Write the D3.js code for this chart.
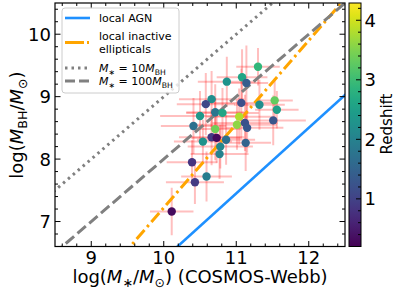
<!DOCTYPE html>
<meta charset="utf-8">
<script src="https://cdn.jsdelivr.net/npm/d3@7"></script>
<style>
body { margin: 0; background: #fff; }
text { font-family: "DejaVu Sans", sans-serif; fill: #000; }
.tick-lab { font-size: 18px; }
.leg { font-size: 11px; }
</style>
<body>
<script>
// values
var logMstar = [11.30, 11.08, 10.87, 11.14, 11.53, 11.56, 11.51, 11.32, 11.07, 10.66,
                10.58, 10.50, 10.71, 10.81, 10.41, 10.71, 11.04, 11.01, 11.12, 11.15,
                10.54, 10.66, 10.73, 10.86, 10.78, 11.13, 10.77, 10.39, 10.43, 10.59, 10.11];
var logMbh   = [9.48, 9.31, 9.24, 9.22, 8.94, 8.79, 8.62, 8.87, 8.90, 8.96,
                8.88, 8.69, 8.75, 8.74, 8.53, 8.48, 8.68, 8.55, 8.58, 8.50,
                8.28, 8.35, 8.34, 8.31, 8.20, 8.26, 8.08, 7.95, 7.63, 7.72, 7.16];
var redshift = [2.9, 2.6, 2.3, 1.4, 3.3, 2.5, 1.3, 2.2, 1.2, 2.2,
                1.1, 2.4, 1.8, 2.6, 1.7, 3.4, 3.8, 3.6, 1.2, 1.3,
                2.3, 0.9, 0.3, 1.7, 2.1, 1.5, 2.0, 0.8, 0.9, 1.9, 0.3];
var errMstar = [0.30, 0.35, 0.40, 0.30, 0.25, 0.30, 0.45, 0.35, 0.50, 0.45,
                0.40, 0.55, 0.40, 0.50, 0.45, 0.35, 0.45, 0.55, 0.45, 0.50,
                0.40, 0.45, 0.35, 0.40, 0.45, 0.35, 0.40, 0.35, 0.40, 0.35, 0.30];
var errMbh   = [0.30, 0.45, 0.40, 0.60, 0.35, 0.30, 0.40, 0.40, 0.55, 0.45,
                0.50, 0.40, 0.45, 0.40, 0.45, 0.50, 0.45, 0.40, 0.45, 0.40,
                0.35, 0.45, 0.40, 0.40, 0.35, 0.45, 0.40, 0.35, 0.35, 0.40, 0.38];

// log MBH = a + b (log M* - 11)
var relNames = ["local AGN", "local inactive ellipticals", "M*=10MBH", "M*=100MBH"];
var relA = [7.45, 8.56, 10, 9];
var relB = [1.05, 1.34, 1, 1];

var xTicks = [9, 10, 11, 12];
var yTicks = [7, 8, 9, 10];
var zTicks = [1, 2, 3, 4];

var width = 399, height = 295;
var x = d3.scaleLinear().domain([8.5, 12.5]).range([55, 345]);
var y = d3.scaleLinear().domain([6.6, 10.5]).range([246.5, 3]);
var zDom = [0.2, 4.29];
var zy = d3.scaleLinear().domain(zDom).range([246.5, 3]);
var color = d3.scaleSequential(d3.interpolateViridis).domain(zDom);

var svg = d3.select("body").append("svg")
    .attr("width", width)
    .attr("height", height);

svg.append("clipPath").attr("id", "plot")
  .append("rect").attr("x", 55).attr("y", 3).attr("width", 290).attr("height", 243.5);

var pts = d3.range(logMstar.length);

// error bars
var eb = svg.append("g").attr("clip-path", "url(#plot)")
    .attr("stroke", "#ff0000").attr("stroke-opacity", 0.25).attr("stroke-width", 2);
eb.selectAll("line.ex").data(pts).enter().append("line")
    .attr("x1", function(i) { return x(logMstar[i] - errMstar[i]); })
    .attr("x2", function(i) { return x(logMstar[i] + errMstar[i]); })
    .attr("y1", function(i) { return y(logMbh[i]); })
    .attr("y2", function(i) { return y(logMbh[i]); });
eb.selectAll("line.ey").data(pts).enter().append("line")
    .attr("x1", function(i) { return x(logMstar[i]); })
    .attr("x2", function(i) { return x(logMstar[i]); })
    .attr("y1", function(i) { return y(logMbh[i] - errMbh[i]); })
    .attr("y2", function(i) { return y(logMbh[i] + errMbh[i]); });

// relations
var styles = [
  {stroke: "#1e90ff", dash: null, legDash: null, w: 2.6},
  {stroke: "#ffa500", dash: "12,4,2.5,4", legDash: "19,3,2,3", w: 3},
  {stroke: "#808080", dash: "2.5,4", legDash: "2.5,4", w: 3},
  {stroke: "#808080", dash: "11,4.5", legDash: "10,4", w: 3}
];
var line = d3.line().x(function(d) { return x(d[0]); }).y(function(d) { return y(d[1]); });
var rels = svg.append("g").attr("clip-path", "url(#plot)");
relNames.forEach(function(n, k) {
  var xs = [8.0, 13.0];
  rels.append("path")
    .datum(xs.map(function(v) { return [v, relA[k] + relB[k] * (v - 11)]; }))
    .attr("d", line)
    .attr("fill", "none")
    .attr("stroke", styles[k].stroke)
    .attr("stroke-width", styles[k].w)
    .attr("stroke-dasharray", styles[k].dash);
});

// points
svg.append("g").selectAll("circle").data(pts).enter().append("circle")
    .attr("cx", function(i) { return x(logMstar[i]); })
    .attr("cy", function(i) { return y(logMbh[i]); })
    .attr("r", 4.2)
    .attr("fill", function(i) { return color(redshift[i]); });

// axes frame + inward ticks on all sides
function minor(lo, hi) {
  var out = [];
  for (var v = Math.ceil(lo * 5); v <= Math.floor(hi * 5); v++) {
    if (v % 5 != 0) out.push(v / 5);
  }
  return out;
}
var ax = svg.append("g").attr("stroke", "#000").attr("stroke-width", 1);
xTicks.forEach(function(t) {
  ax.append("line").attr("x1", x(t)).attr("x2", x(t)).attr("y1", 246.5).attr("y2", 241);
  ax.append("line").attr("x1", x(t)).attr("x2", x(t)).attr("y1", 3).attr("y2", 8.5);
});
minor(8.5, 12.5).forEach(function(t) {
  ax.append("line").attr("x1", x(t)).attr("x2", x(t)).attr("y1", 246.5).attr("y2", 243.5);
  ax.append("line").attr("x1", x(t)).attr("x2", x(t)).attr("y1", 3).attr("y2", 6);
});
yTicks.forEach(function(t) {
  ax.append("line").attr("x1", 55).attr("x2", 60.5).attr("y1", y(t)).attr("y2", y(t));
  ax.append("line").attr("x1", 345).attr("x2", 339.5).attr("y1", y(t)).attr("y2", y(t));
});
minor(6.6, 10.5).forEach(function(t) {
  ax.append("line").attr("x1", 55).attr("x2", 58).attr("y1", y(t)).attr("y2", y(t));
  ax.append("line").attr("x1", 345).attr("x2", 342).attr("y1", y(t)).attr("y2", y(t));
});
svg.append("rect").attr("x", 55).attr("y", 3).attr("width", 290).attr("height", 243.5)
    .attr("fill", "none").attr("stroke", "#000").attr("stroke-width", 1.2);

svg.append("g").selectAll("text").data(xTicks).enter().append("text")
    .attr("class", "tick-lab")
    .attr("x", function(d) { return x(d); })
    .attr("y", 264)
    .attr("text-anchor", "middle")
    .text(function(d) { return d; });
svg.append("g").selectAll("text").data(yTicks).enter().append("text")
    .attr("class", "tick-lab")
    .attr("x", 51)
    .attr("y", function(d) { return y(d) + 6.5; })
    .attr("text-anchor", "end")
    .text(function(d) { return d; });

// axis labels
var xl = svg.append("text").attr("x", 200).attr("y", 283).attr("text-anchor", "middle")
    .style("font-size", "18px");
xl.append("tspan").text("log(");
xl.append("tspan").style("font-style", "italic").text("M");
xl.append("tspan").attr("dy", 4).style("font-size", "12.6px").text("∗");
xl.append("tspan").attr("dy", -4).text("/");
xl.append("tspan").style("font-style", "italic").text("M");
xl.append("tspan").attr("dy", 4).style("font-size", "12.6px").text("⊙");
xl.append("tspan").attr("dy", -4).text(") (COSMOS-Webb)");

var yl = svg.append("text").attr("transform", "translate(23,125) rotate(-90)")
    .attr("text-anchor", "middle").style("font-size", "18px");
yl.append("tspan").text("log(");
yl.append("tspan").style("font-style", "italic").text("M");
yl.append("tspan").attr("dy", 4).style("font-size", "12.6px").text("BH");
yl.append("tspan").attr("dy", -4).text("/");
yl.append("tspan").style("font-style", "italic").text("M");
yl.append("tspan").attr("dy", 4).style("font-size", "12.6px").text("⊙");
yl.append("tspan").attr("dy", -4).text(")");

// legend
var lg = svg.append("g");
lg.append("rect").attr("x", 62).attr("y", 8).attr("width", 117).attr("height", 85)
    .attr("rx", 3).attr("fill", "#fff").attr("fill-opacity", 0.8)
    .attr("stroke", "#cccccc").attr("stroke-width", 1);
var legY = [18, 42.5, 68, 81];
styles.forEach(function(s, k) {
  lg.append("line").attr("x1", 65).attr("x2", 90).attr("y1", legY[k]).attr("y2", legY[k])
    .attr("stroke", s.stroke).attr("stroke-width", s.w).attr("stroke-dasharray", s.legDash);
});
lg.append("text").attr("class", "leg").attr("x", 99).attr("y", 22).text("local AGN");
lg.append("text").attr("class", "leg").attr("x", 99).attr("y", 40).text("local inactive");
lg.append("text").attr("class", "leg").attr("x", 99).attr("y", 52.5).text("ellipticals");
[["10", 72], ["100", 85]].forEach(function(r) {
  var t = lg.append("text").attr("class", "leg").attr("x", 99).attr("y", r[1]);
  t.append("tspan").style("font-style", "italic").text("M");
  t.append("tspan").attr("dy", 2.5).style("font-size", "7.7px").text("∗");
  t.append("tspan").attr("dy", -2.5).text(" = " + r[0]);
  t.append("tspan").style("font-style", "italic").text("M");
  t.append("tspan").attr("dy", 2.5).style("font-size", "7.7px").text("BH");
});

// colorbar
var grad = svg.append("defs").append("linearGradient").attr("id", "vir")
    .attr("x1", 0).attr("y1", 1).attr("x2", 0).attr("y2", 0);
d3.range(0, 1.0001, 0.05).forEach(function(t) {
  grad.append("stop").attr("offset", t).attr("stop-color", d3.interpolateViridis(t));
});
svg.append("rect").attr("x", 349).attr("y", 3).attr("width", 12).attr("height", 243.5)
    .attr("fill", "url(#vir)").attr("stroke", "#000").attr("stroke-width", 1);
var cb = svg.append("g").attr("stroke", "#000").attr("stroke-width", 1);
zTicks.forEach(function(t) {
  cb.append("line").attr("x1", 361).attr("x2", 356).attr("y1", zy(t)).attr("y2", zy(t));
});
minor(0.2, 4.29).forEach(function(t) {
  cb.append("line").attr("x1", 361).attr("x2", 358).attr("y1", zy(t)).attr("y2", zy(t));
});
svg.append("g").selectAll("text").data(zTicks).enter().append("text")
    .attr("class", "tick-lab")
    .attr("x", 364.5)
    .attr("y", function(d) { return zy(d) + 6.5; })
    .text(function(d) { return d; });
svg.append("text").attr("transform", "translate(392,124) rotate(-90)")
    .attr("text-anchor", "middle").style("font-size", "15px").text("Redshift");
</script>
</body>
